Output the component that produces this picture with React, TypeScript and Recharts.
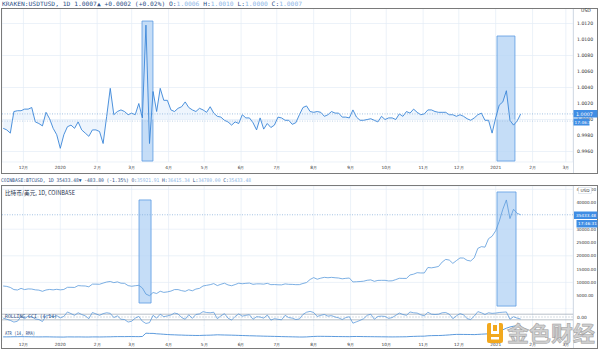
import React from "react";
import { ComposedChart, Line, Area, XAxis, YAxis, CartesianGrid, ReferenceArea, ReferenceLine } from "recharts";

// days counted from 2020-01-01, one sample every 3 days
const START_DAY = -48;
const STEP = 3;

const monthTicks = [-31, 0, 31, 60, 91, 121, 152, 182, 213, 244, 274, 305, 335, 366, 397, 425];
const monthLabels = ["12月", "2020", "2月", "3月", "4月", "5月", "6月", "7月", "8月", "9月", "10月", "11月", "12月", "2021", "2月", "3月"];

const usdtTicks = [0.996, 0.998, 1.0, 1.002, 1.004, 1.006, 1.008, 1.01, 1.012];
const btcTicks = [5000, 10000, 15000, 20000, 25000, 30000, 35000, 40000, 45000];

const usdtClose = [
  0.9989, 0.9987, 0.9983, 1.001, 1.0011, 1.0011, 1.0013, 1.0013, 1.0015, 0.9997,
  0.9995, 0.9992, 1.0009, 1.0001, 0.9989, 0.9981, 0.9964, 0.9981, 0.9991, 0.9993,
  0.9989, 0.9997, 0.9987, 0.9983, 0.9979, 0.9987, 0.9987, 0.9985, 0.997, 1.0004,
  1.0039, 1.0006, 1.001, 1.0012, 1.001, 1.0006, 1.0008, 1.0006, 1.002, 1.0002,
  1.0118, 0.997, 1.0035, 1.001, 1.0039, 1.0024, 1.0024, 1.0012, 1.001, 1.0014,
  1.0016, 1.0022, 1.0015, 1.0012, 1.001, 1.0014, 1.0012, 1.0009, 1.0016, 1.0008,
  1.0004, 1.0003, 0.9999, 0.9997, 0.9993, 0.9997, 0.9995, 1.0006, 1.0002, 1.0002,
  0.9996, 0.9987, 1.0002, 0.9988, 0.9995, 0.999, 0.9993, 1.0003, 1.0002, 0.9999,
  0.9999, 0.9994, 0.9996, 1.0006, 1.0015, 1.0017, 1.001, 1.0009, 1.001, 1.0009,
  1.0004, 1.0006, 1.001, 1.0008, 1.0008, 1.0003, 1.0003, 1.0002, 1.0012, 1.0003,
  0.9999, 0.9999, 1.0, 1.0001, 0.9999, 0.9997, 1.0004, 1.0, 1.0002, 1.0002,
  1.0, 1.0007, 1.0004, 1.001, 1.0008, 1.0013, 1.0009, 1.0006, 1.0007, 1.0012,
  1.0012, 1.001, 1.0009, 1.0009, 1.0009, 1.0006, 1.0006, 1.0004, 1.0006, 1.0004,
  1.0001, 0.9999, 1.0002, 1.0006, 1.0008, 0.9999, 0.9999, 0.9983, 1.0002, 1.0018,
  1.0022, 1.0036, 0.9999, 0.9993, 0.9998, 1.0007,
];

const btcClose = [
  8650, 8500, 8100, 7300, 7150, 7750, 7300, 7550, 7500, 7200,
  7100, 6650, 7150, 7350, 7200, 7400, 7200, 7350, 8150, 8150,
  8100, 8800, 8700, 8650, 8350, 9350, 9350, 9300, 9750, 10150,
  10350, 9900, 10200, 9700, 9650, 8800, 8550, 8750, 8900, 7900,
  5600, 5000, 6200, 5830, 6680, 6250, 6430, 6730, 7300, 7300,
  6900, 6640, 7250, 6850, 7500, 7750, 8650, 8900, 9150, 9550,
  8800, 9300, 9700, 9050, 8750, 9200, 9700, 9500, 9650, 9750,
  9280, 9450, 9450, 9350, 9650, 9150, 9200, 9100, 9070, 9430,
  9280, 9250, 9150, 9160, 9600, 9950, 11100, 11800, 11200, 11600,
  11900, 11750, 11900, 11750, 11650, 11350, 11530, 11650, 10170, 10250,
  10330, 10450, 10800, 10950, 10400, 10750, 10780, 10780, 10550, 10600,
  11050, 11550, 11500, 11500, 12800, 13100, 13650, 13550, 13550, 15600,
  15480, 15700, 16000, 17650, 18650, 18400, 17150, 18200, 19200, 19150,
  18300, 18050, 19250, 22800, 23450, 23250, 26450, 27350, 29400, 33000,
  37500, 41000, 34000, 37500, 36000, 35433.48,
];

const cciValues = [
  -40, -80, -120, -180, -150, 20, -60, 30, 10, -70,
  -90, -160, 40, 60, 0, 50, -30, 20, 180, 120,
  60, 150, 90, 40, -60, 160, 110, 60, 120, 150,
  130, -20, 40, -80, -90, -180, -150, -40, 20, -150,
  -230, -200, 60, -40, 100, 10, 40, 70, 140, 110,
  -20, -80, 80, -50, 90, 110, 190, 160, 150, 170,
  -60, 40, 120, -40, -110, 20, 110, 30, 60, 80,
  -80, 10, 0, -40, 70, -110, -60, -80, -100, 60,
  -20, -40, -90, -70, 90, 170, 200, 160, 20, 60,
  90, 30, 50, 0, -30, -90, -20, 10, -220, -170,
  -120, -60, 60, 100, -80, 20, 30, 20, -50, -20,
  60, 140, 90, 60, 180, 150, 140, 80, 40, 170,
  100, 90, 100, 150, 160, 100, -60, 40, 120, 80,
  -60, -90, 30, 190, 150, 90, 150, 130, 140, 160,
  170, 180, -80, 10, -40, -70,
];

const atrValues = [
  330, 330, 340, 360, 360, 380, 370, 360, 340, 330,
  320, 330, 340, 330, 310, 300, 290, 280, 320, 320,
  310, 320, 310, 300, 300, 320, 320, 310, 320, 340,
  350, 380, 390, 400, 390, 410, 410, 400, 390, 430,
  1250, 1200, 1200, 1100, 1050, 980, 920, 870, 840, 800,
  780, 740, 720, 700, 680, 680, 720, 740, 760, 800,
  850, 820, 800, 780, 760, 730, 700, 670, 640, 610,
  590, 560, 540, 510, 490, 470, 450, 430, 400, 380,
  360, 340, 320, 300, 300, 320, 380, 430, 470, 470,
  460, 450, 440, 420, 410, 400, 390, 380, 420, 430,
  420, 400, 390, 380, 370, 360, 350, 340, 330, 320,
  330, 340, 350, 360, 420, 450, 480, 500, 510, 600,
  640, 660, 670, 700, 760, 820, 900, 950, 950, 940,
  930, 920, 900, 950, 1000, 1050, 1100, 1150, 1300, 1600,
  2100, 2500, 2800, 3000, 3100, 3150,
];

// highlighted periods (day range, value range)
const usdtBoxes = [
  { x1: 68.7, x2: 77.9, y1: 0.99481, y2: 1.01231 },
  { x1: 367.1, x2: 382.2, y1: 0.99481, y2: 1.01044 },
];
const btcBoxes = [
  { x1: 66.2, x2: 76.3, y1: 2250, y2: 41000 },
  { x1: 367.1, x2: 383.1, y1: 1100, y2: 44000 },
];

const data = usdtClose.map((v, i) => ({
  day: START_DAY + i * STEP,
  usdt: v,
  btc: btcClose[i],
  cci: cciValues[i],
  atr: atrValues[i],
}));

const X_DOMAIN = [-49, 431];
const GRID = "#e4edf7";
const xTick = { fontSize: 4.3, fill: "#333", fontFamily: "DejaVu Sans" };
const yTick = { fontSize: 4.6, fill: "#333", fontFamily: "DejaVu Sans" };
const monthFmt = (d: number) => monthLabels[monthTicks.indexOf(d)] ?? "";

const boxProps = { fill: "#b7d4f5", fillOpacity: 0.8, stroke: "#5b9be2", strokeWidth: 0.8 };

const App = () => {
  return (
    <div style={{ position: "absolute", left: 0, top: 0, width: 600, height: 351, background: "#fff", overflow: "hidden" }}>
      {/* USDT panel */}
      <div style={{ position: "absolute", left: 0, top: 8 }}>
        <ComposedChart width={598} height={166} data={data} margin={{ top: 0, right: 0, bottom: 0, left: 2 }}>
          <CartesianGrid stroke={GRID} strokeWidth={0.7} />
          <XAxis dataKey="day" type="number" domain={X_DOMAIN} ticks={monthTicks} tickFormatter={monthFmt}
            height={12} tickSize={0} tickMargin={4} axisLine={false} tick={xTick} interval={0} />
          <YAxis orientation="right" type="number" domain={[0.99469, 1.01394]} ticks={usdtTicks} width={25}
            tickSize={0} tickMargin={4} axisLine={false} tick={yTick} tickFormatter={(v: number) => v.toFixed(4)} />
          {usdtBoxes.map((b, i) => (
            <ReferenceArea key={i} x1={b.x1} x2={b.x2} y1={b.y1} y2={b.y2} {...boxProps} />
          ))}
          <ReferenceLine y={1.0007} stroke="#7ea9d8" strokeDasharray="1 1.5" strokeWidth={0.7} />
          <ReferenceLine y={0.9998} stroke="#9bb8d8" strokeDasharray="1 1.5" strokeWidth={0.6} />
          <Area type="linear" dataKey="usdt" baseValue={1.0} fill="#e3eefb" fillOpacity={0.6} stroke="#3a86d8"
            strokeWidth={0.9} dot={false} isAnimationActive={false} />
        </ComposedChart>
      </div>

      {/* BTC price pane */}
      <div style={{ position: "absolute", left: 0, top: 186 }}>
        <ComposedChart width={598} height={123} data={data} margin={{ top: 0, right: 0, bottom: 0, left: 2 }}>
          <CartesianGrid stroke={GRID} strokeWidth={0.7} />
          <XAxis dataKey="day" type="number" domain={X_DOMAIN} ticks={monthTicks} hide />
          <YAxis orientation="right" type="number" domain={[0, 46250]} ticks={btcTicks} width={25}
            tickSize={0} tickMargin={3.5} axisLine={false} tick={{ ...yTick, fontSize: 4.1 }}
            tickFormatter={(v: number) => v.toFixed(2)} />
          {btcBoxes.map((b, i) => (
            <ReferenceArea key={i} x1={b.x1} x2={b.x2} y1={b.y1} y2={b.y2} {...boxProps} />
          ))}
          <ReferenceLine y={35433.48} stroke="#7ea9d8" strokeDasharray="1 1.5" strokeWidth={0.7} />
          <Line type="linear" dataKey="btc" stroke="#5b9bdc" strokeWidth={0.8} dot={false} isAnimationActive={false} />
        </ComposedChart>
      </div>

      {/* oscillator pane */}
      <div style={{ position: "absolute", left: 0, top: 308 }}>
        <ComposedChart width={598} height={18} data={data} margin={{ top: 0, right: 0, bottom: 0, left: 2 }}>
          <CartesianGrid stroke={GRID} strokeWidth={0.7} horizontal={false} />
          <XAxis dataKey="day" type="number" domain={X_DOMAIN} ticks={monthTicks} hide />
          <YAxis orientation="right" type="number" domain={[-320, 320]} ticks={[0]} width={25}
            tickSize={0} tickMargin={4} axisLine={false} tick={{ ...yTick, fontSize: 4.4 }}
            tickFormatter={(v: number) => v.toFixed(2)} />
          <ReferenceLine y={100} stroke="#8a96a3" strokeWidth={0.6} />
          <ReferenceLine y={-100} stroke="#8a96a3" strokeWidth={0.6} />
          <ReferenceLine y={0} stroke="#a9b4c0" strokeDasharray="2 1" strokeWidth={0.5} />
          <Line type="linear" dataKey="cci" stroke="#4a8fd8" strokeWidth={0.7} dot={false} isAnimationActive={false} />
        </ComposedChart>
      </div>

      {/* ATR pane + time axis */}
      <div style={{ position: "absolute", left: 0, top: 325 }}>
        <ComposedChart width={598} height={26} data={data} margin={{ top: 0, right: 0, bottom: 0, left: 2 }}>
          <CartesianGrid stroke={GRID} strokeWidth={0.7} horizontal={false} />
          <XAxis dataKey="day" type="number" domain={X_DOMAIN} ticks={monthTicks} tickFormatter={monthFmt}
            height={10} tickSize={0} tickMargin={2} axisLine={false} tick={xTick} interval={0} />
          <YAxis orientation="right" type="number" domain={[-700, 3300]} ticks={[]} width={25} axisLine={false} />
          <Line type="linear" dataKey="atr" stroke="#4a8fd8" strokeWidth={0.9} dot={false} isAnimationActive={false} />
        </ComposedChart>
      </div>

      {/* frames, headers, price tags, watermark */}
      <svg width={600} height={351} style={{ position: "absolute", left: 0, top: 0, pointerEvents: "none" }}
        fontFamily="DejaVu Sans Mono">
        <rect x={1.5} y={8.5} width={596} height={165} fill="none" stroke="#7a7a7a" strokeWidth={1} />
        <line x1={573.5} y1={9} x2={573.5} y2={173} stroke="#d6dde6" strokeWidth={1} />
        <rect x={1.5} y={185.5} width={596} height={163} fill="none" stroke="#7a7a7a" strokeWidth={1} />
        <line x1={573.5} y1={186} x2={573.5} y2={348} stroke="#d6dde6" strokeWidth={1} />

        <text x={2} y={5.6} fontSize={6} textLength={300} lengthAdjust="spacingAndGlyphs">
          <tspan fill="#2d4f86">KRAKEN:USDTUSD, 1D 1.0007▲ +0.0002 (+0.02%) O:</tspan>
          <tspan fill="#8db6e6">1.0006 </tspan>
          <tspan fill="#2d4f86">H:</tspan><tspan fill="#8db6e6">1.0010 </tspan>
          <tspan fill="#2d4f86">L:</tspan><tspan fill="#8db6e6">1.0000 </tspan>
          <tspan fill="#2d4f86">C:</tspan><tspan fill="#8db6e6">1.0007</tspan>
        </text>
        <text x={1} y={182.3} fontSize={5} textLength={250} lengthAdjust="spacingAndGlyphs">
          <tspan fill="#2d4f86">COINBASE:BTCUSD, 1D 35433.48▼ -483.80 (-1.35%) O:</tspan>
          <tspan fill="#8db6e6">35921.91 </tspan>
          <tspan fill="#2d4f86">H:</tspan><tspan fill="#8db6e6">36415.34 </tspan>
          <tspan fill="#2d4f86">L:</tspan><tspan fill="#8db6e6">34780.00 </tspan>
          <tspan fill="#2d4f86">C:</tspan><tspan fill="#8db6e6">35433.48</tspan>
        </text>
        <text x={5} y={194.5} fontSize={6} fill="#2a3550" textLength={70} lengthAdjust="spacingAndGlyphs"
          fontFamily="Noto Sans CJK SC">比特币/美元, 1D, COINBASE</text>
        <text x={5} y={318} fontSize={5} fill="#2d4f86" textLength={52} lengthAdjust="spacingAndGlyphs">ROLLING CCI (4,14)</text>
        <text x={5} y={335} fontSize={5} fill="#2d4f86" textLength={30} lengthAdjust="spacingAndGlyphs">ATR (14, RMA)</text>

        <text x={586} y={12} fontSize={4.6} fill="#333" textAnchor="middle" fontFamily="DejaVu Sans">USD</text>
        <rect x={578.5} y={187.5} width={13} height={6} fill="#fff" stroke="#c8d3df" strokeWidth={0.5} />
        <text x={585} y={192.3} fontSize={4.3} fill="#333" textAnchor="middle" fontFamily="DejaVu Sans">USD</text>

        <rect x={573.5} y={110} width={24} height={7.5} fill="#3f8de4" />
        <text x={576} y={115.6} fontSize={4.8} fill="#fff" fontFamily="DejaVu Sans">1.0007</text>
        <rect x={573.5} y={118.5} width={16} height={7} fill="#3f8de4" />
        <text x={574.5} y={123.8} fontSize={4.2} fill="#fff" fontFamily="DejaVu Sans">17:46:31</text>

        <rect x={574} y={211.5} width={23.5} height={7.5} fill="#3f8de4" />
        <text x={576} y={217} fontSize={4.2} fill="#fff" fontFamily="DejaVu Sans">35433.48</text>
        <rect x={576.5} y={220} width={21} height={7.5} fill="#3f8de4" />
        <text x={578} y={225.4} fontSize={4.2} fill="#fff" fontFamily="DejaVu Sans">17:46:31</text>

        <g>
          <rect x={487} y={323} width={16} height={20} rx={2} fill="#f2a81d" />
          <rect x={491} y={323} width={8} height={11} fill="#fff" />
          <rect x={493} y={325} width={4} height={6} fill="#f2a81d" />
          <rect x={491} y={337} width={8} height={2.5} fill="#fff" />
        </g>
        <text x={507} y={341} fontSize={21} fill="#cfcfcf" stroke="#9c9c9c" strokeWidth={0.5}
          fontFamily="Noto Sans CJK SC" fontWeight={700} textLength={88} lengthAdjust="spacingAndGlyphs">金色财经</text>
      </svg>
    </div>
  );
};

export default App;
